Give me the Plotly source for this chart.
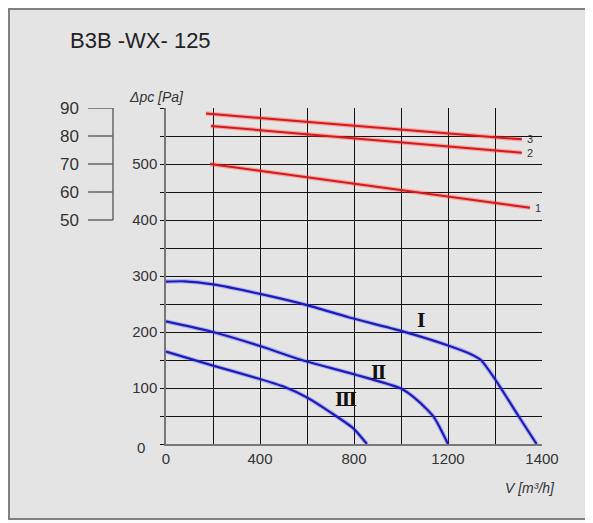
import plotly.graph_objects as go

# ---- data ----
title_text = "B3B -WX- 125"
y_label = "Δpc [Pa]"
x_label = "V [m³/h]"

x_tickvals = [0, 200, 400, 600, 800, 1000, 1200, 1400, 1600]
x_ticktext = ["0", "", "400", "", "800", "", "1200", "", "1400"]
y_tickvals = [0, 50, 100, 150, 200, 250, 300, 350, 400, 450, 500, 550, 600]
y_ticktext = ["", "", "100", "", "200", "", "300", "", "400", "", "500", "", ""]

# secondary (left) scale, mapped onto the pressure axis
left_scale_vals = [600, 550, 500, 450, 400]
left_scale_text = ["90", "80", "70", "60", "50"]

# red straight lines 1..3
red_names = ["1", "2", "3"]
red_x = [[187, 1549], [191, 1514], [170, 1514]]
red_y = [[500, 422], [568, 520], [590, 544]]

# blue fan curves I..III
curve_I_x = [0, 80, 200, 400, 600, 780, 1000, 1200, 1300, 1340, 1400, 1500, 1577]
curve_I_y = [290, 290.5, 285, 268, 248, 226, 202, 176, 160, 150, 116, 50, 0]
curve_II_x = [0, 200, 400, 570, 800, 1000, 1070, 1140, 1200]
curve_II_y = [219, 200, 175, 151, 124.5, 99, 78, 48, 0]
curve_III_x = [0, 200, 400, 500, 600, 700, 797, 855]
curve_III_y = [165, 140, 116, 102.5, 83, 56.5, 28, 0]
curve_names = ["Ⅰ", "Ⅱ", "Ⅲ"]
curve_label_pos = [(1084, 220), (903, 128), (766, 80)]

FONT = "Liberation Sans, Arial, sans-serif"

fig = go.Figure()

for xs, ys in zip(red_x, red_y):
    fig.add_trace(go.Scatter(x=xs, y=ys, mode="lines",
                             line=dict(color="rgba(255,60,60,0.35)", width=4.5),
                             hoverinfo="skip", showlegend=False))
    fig.add_trace(go.Scatter(x=xs, y=ys, mode="lines",
                             line=dict(color="#d81818", width=2),
                             showlegend=False))

for xs, ys in [(curve_I_x, curve_I_y), (curve_II_x, curve_II_y), (curve_III_x, curve_III_y)]:
    fig.add_trace(go.Scatter(x=xs, y=ys, mode="lines",
                             line=dict(color="rgba(70,70,255,0.3)", width=4.5, shape="spline", smoothing=0.6),
                             hoverinfo="skip", showlegend=False))
    fig.add_trace(go.Scatter(x=xs, y=ys, mode="lines",
                             line=dict(color="#1c1cb8", width=2.2, shape="spline", smoothing=0.6),
                             showlegend=False))

shapes = []
# outer frame
shapes.append(dict(type="rect", xref="paper", yref="paper",
                   x0=-0.4176, x1=1.125, y0=-0.2232, y1=1.2946,
                   fillcolor="#e4e4e4", line=dict(color="#808080", width=2), layer="below"))
# left bracket scale
for v in left_scale_vals:
    shapes.append(dict(type="line", xref="paper", yref="y",
                       x0=-0.2074, x1=-0.141, y0=v, y1=v,
                       line=dict(color="#666666", width=1.5)))
shapes.append(dict(type="line", xref="paper", yref="y",
                   x0=-0.141, x1=-0.141, y0=min(left_scale_vals), y1=max(left_scale_vals),
                   line=dict(color="#666666", width=1.5)))

annotations = []
annotations.append(dict(text=title_text, xref="paper", yref="paper", x=-0.261, y=1.2, xanchor="left",
                        yanchor="middle", showarrow=False,
                        font=dict(family=FONT, size=22, color="#222222")))
annotations.append(dict(text="<i>" + y_label + "</i>", xref="paper", yref="paper", x=-0.103, y=1.033,
                        xanchor="left", yanchor="middle", showarrow=False,
                        font=dict(family=FONT, size=14, color="#333333")))
annotations.append(dict(text="<i>" + x_label + "</i>", xref="paper", yref="paper", x=1.04, y=-0.131,
                        xanchor="right", yanchor="middle", showarrow=False,
                        font=dict(family=FONT, size=14, color="#333333")))
annotations.append(dict(text="0", xref="paper", yref="paper", x=-0.066, y=-0.009,
                        xanchor="center", yanchor="middle", showarrow=False,
                        font=dict(family=FONT, size=15, color="#333333")))
for v, t in zip(left_scale_vals, left_scale_text):
    annotations.append(dict(text=t, xref="paper", yref="y", x=-0.226, y=v, xanchor="right",
                            yanchor="middle", showarrow=False,
                            font=dict(family=FONT, size=17, color="#333333")))
for name, xs, ys in zip(red_names, red_x, red_y):
    annotations.append(dict(text=name, x=xs[-1], y=ys[-1], xanchor="left", yanchor="middle",
                            xshift=3, showarrow=False,
                            font=dict(family=FONT, size=11, color="#333333")))
for name, (lx, ly) in zip(curve_names, curve_label_pos):
    annotations.append(dict(text="<b>" + name + "</b>", x=lx, y=ly, xanchor="center", yanchor="middle",
                            showarrow=False,
                            font=dict(family="DejaVu Serif", size=18, color="#111111")))

fig.update_layout(
    width=585, height=515, autosize=False,
    margin=dict(l=158, r=51, t=100, b=79),
    paper_bgcolor="#fbfbfb", plot_bgcolor="rgba(0,0,0,0)",
    shapes=shapes, annotations=annotations, showlegend=False,
)
fig.update_xaxes(range=[0, 1600], tickvals=x_tickvals, ticktext=x_ticktext,
                 showgrid=True, gridcolor="#111111", gridwidth=1.4, zeroline=False,
                 showline=True, linecolor="#777777", linewidth=1.5, mirror=False,
                 ticks="", tickfont=dict(family=FONT, size=15, color="#333333"),
                 fixedrange=True)
fig.update_yaxes(range=[0, 600], tickvals=y_tickvals, ticktext=y_ticktext,
                 showgrid=True, gridcolor="#111111", gridwidth=1.4, zeroline=False,
                 showline=True, linecolor="#777777", linewidth=1.5, mirror=False,
                 ticks="outside", ticklen=4, tickcolor="#111111", ticklabelstandoff=0,
                 tickfont=dict(family=FONT, size=15, color="#333333"),
                 fixedrange=True)

fig.write_html("out.html", config={"displayModeBar": False})
